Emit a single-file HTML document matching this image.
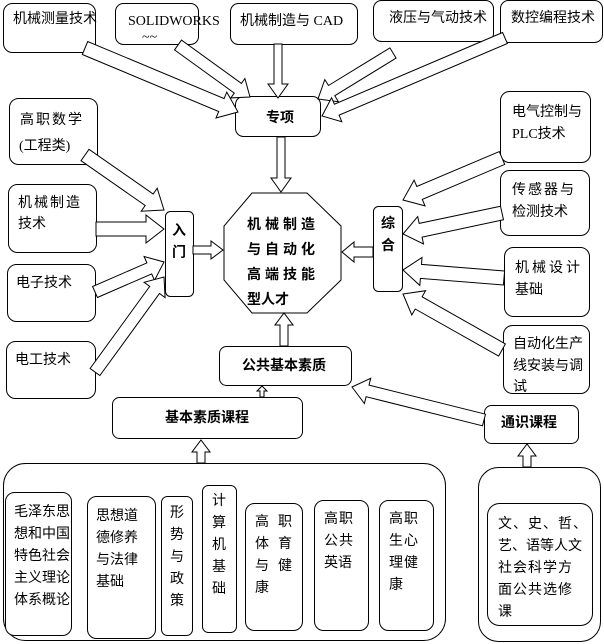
<!DOCTYPE html>
<html><head><meta charset="utf-8"><style>
html,body{margin:0;padding:0;background:#fff;}
svg{display:block;}
text{font-family:"Liberation Serif","Noto Sans CJK SC",serif;font-size:14px;fill:#000;}
.b{font-weight:bold;}
</style></head><body>
<svg id="s" width="604" height="644" viewBox="0 0 604 644" xmlns="http://www.w3.org/2000/svg">
<g fill="#fff" stroke="#000" stroke-width="1">
<rect x="3.5" y="3.5" width="92" height="49" rx="9"/>
<rect x="115.5" y="3.5" width="83" height="41" rx="8"/>
<rect x="230.5" y="3.5" width="127" height="41" rx="8"/>
<rect x="373.5" y="0.5" width="120" height="41" rx="8"/>
<rect x="500.5" y="0.5" width="102" height="42" rx="8"/>
<rect x="235.5" y="96.5" width="85" height="40" rx="8"/>
<rect x="9.5" y="98.5" width="88" height="66" rx="9"/>
<rect x="500.5" y="91.5" width="90" height="71" rx="9"/>
<rect x="8.5" y="184.5" width="88" height="68" rx="9"/>
<rect x="165.5" y="211.5" width="28" height="85" rx="5"/>
<rect x="373.5" y="206.5" width="29" height="85" rx="5"/>
<rect x="500.5" y="170.5" width="89" height="65" rx="9"/>
<rect x="7.5" y="264.5" width="88" height="57" rx="9"/>
<rect x="504.5" y="247.5" width="85" height="69" rx="9"/>
<rect x="6.5" y="341.5" width="89" height="57" rx="9"/>
<rect x="503.5" y="325.5" width="86" height="68" rx="9"/>
<rect x="219.5" y="346.5" width="132" height="39" rx="7"/>
<rect x="112.5" y="397.5" width="190" height="41" rx="7"/>
<rect x="484.5" y="405.5" width="94" height="38" rx="7"/>
<rect x="3.5" y="463.5" width="442" height="177" rx="22"/>
<rect x="478.5" y="467.5" width="122" height="174" rx="20"/>
<rect x="5.5" y="492.5" width="66" height="143" rx="9"/>
<rect x="87.5" y="496.5" width="68" height="142" rx="9"/>
<rect x="161.5" y="496.5" width="31" height="139" rx="6"/>
<rect x="202.5" y="485.5" width="34" height="147" rx="6"/>
<rect x="245.5" y="503.5" width="57" height="127" rx="9"/>
<rect x="314.5" y="500.5" width="54" height="130" rx="9"/>
<rect x="379.5" y="500.5" width="54" height="130" rx="9"/>
<rect x="487.5" y="503.5" width="105" height="122" rx="12"/>
<polygon points="252,193 307,193 341,226 341,280 307,313 252,313 224,280 224,226"/>
</g>
<g id="arrows" fill="#fff" stroke="#000" stroke-width="1"></g>
<g>
<text x="13" y="23" font-size="13">机械测量技术</text>
<text x="128" y="25" font-size="13">SOLIDWORKS</text>
<text x="142" y="41" font-size="9">~~</text>
<text x="240" y="25">机械制造与 CAD</text>
<text x="389" y="22" font-size="13">液压与气动技术</text>
<text x="511" y="22" font-size="13">数控编程技术</text>
<text x="266" y="122" class="b">专项</text>
<text x="20" y="124" letter-spacing="2">高职数学</text>
<text x="19" y="150">(工程类)</text>
<text x="512" y="116">电气控制与</text>
<text x="512" y="138">PLC技术</text>
<text x="18" y="207" letter-spacing="2">机械制造</text>
<text x="18" y="228">技术</text>
<text x="172" y="235" class="b">入</text>
<text x="172" y="257" class="b">门</text>
<text x="247" y="229" class="b" font-size="15" letter-spacing="4">机械制造</text>
<text x="247" y="254" class="b" font-size="15" letter-spacing="4">与自动化</text>
<text x="247" y="279" class="b" font-size="15" letter-spacing="4">高端技能</text>
<text x="247" y="304" class="b" font-size="15">型人才</text>
<text x="381" y="228" class="b">综</text>
<text x="381" y="250" class="b">合</text>
<text x="512" y="194" letter-spacing="2">传感器与</text>
<text x="512" y="216">检测技术</text>
<text x="16" y="287">电子技术</text>
<text x="515" y="272" letter-spacing="3">机械设计</text>
<text x="515" y="294">基础</text>
<text x="15" y="364">电工技术</text>
<text x="513" y="348">自动化生产</text>
<text x="513" y="370">线安装与调</text>
<text x="513" y="391">试</text>
<text x="242" y="370" class="b">公共基本素质</text>
<text x="165" y="422" class="b">基本素质课程</text>
<text x="501" y="427" class="b">通识课程</text>
<text x="14" y="516">毛泽东思</text>
<text x="14" y="538">想和中国</text>
<text x="14" y="560">特色社会</text>
<text x="14" y="582">主义理论</text>
<text x="14" y="604">体系概论</text>
<text x="96" y="520">思想道</text>
<text x="96" y="542">德修养</text>
<text x="96" y="564">与法律</text>
<text x="96" y="586">基础</text>
<text x="170" y="517">形</text><text x="170" y="539">势</text><text x="170" y="561">与</text><text x="170" y="583">政</text><text x="170" y="605">策</text>
<text x="212" y="505">计</text><text x="212" y="527">算</text><text x="212" y="549">机</text><text x="212" y="571">基</text><text x="212" y="593">础</text>
<text x="255" y="526">高</text><text x="278" y="526">职</text>
<text x="255" y="548">体</text><text x="278" y="548">育</text>
<text x="255" y="570">与</text><text x="278" y="570">健</text>
<text x="255" y="592">康</text>
<text x="324" y="523" letter-spacing="1">高职</text>
<text x="324" y="545" letter-spacing="1">公共</text>
<text x="324" y="567">英语</text>
<text x="389" y="523" letter-spacing="1">高职</text>
<text x="389" y="545" letter-spacing="1">生心</text>
<text x="389" y="567" letter-spacing="1">理健</text>
<text x="389" y="589">康</text>
<text x="498" y="528" letter-spacing="1">文、史、哲、</text>
<text x="498" y="550">艺、语等人文</text>
<text x="498" y="572" letter-spacing="1">社会科学方</text>
<text x="498" y="594" letter-spacing="1">面公共选修</text>
<text x="498" y="616">课</text>
</g>
</svg>
<script>
var A=[
[85,48,238,112,7,14,18],
[178,45,250,97,6,12,15],
[278,44,278,98,4,10,14],
[393,53,318,99,6,13,16],
[505,38,322,116,6,13,16],
[281,137,281,192,4,10,14],
[85,155,164,210,7,14,18],
[96,229,164,229,7,14,18],
[95,292,164,262,6,13,16],
[95,372,164,277,6,13,16],
[193,250,223,250,4,9,12],
[373,252,342,252,5,10,12],
[502,158,403,200,7,14,18],
[502,213,403,234,7,14,18],
[504,278,403,270,7,14,18],
[502,350,403,294,7,14,18],
[284,346,284,313,4,9,12],
[262,397,262,386,2,5,5],
[484,420,352,387,6,13,16],
[201,463,201,440,4,9,12],
[527,467,527,444,4,9,12]
];
var g=document.getElementById('arrows'),h='';
A.forEach(function(a){
var x1=a[0],y1=a[1],x2=a[2],y2=a[3],w=a[4],H=a[5],L=a[6];
var dx=x2-x1,dy=y2-y1,l=Math.sqrt(dx*dx+dy*dy),ux=dx/l,uy=dy/l,nx=-uy,ny=ux;
var bx=x2-ux*L,by=y2-uy*L;
var p=[[x1+nx*w,y1+ny*w],[bx+nx*w,by+ny*w],[bx+nx*H,by+ny*H],[x2,y2],[bx-nx*H,by-ny*H],[bx-nx*w,by-ny*w],[x1-nx*w,y1-ny*w]];
h+='<polygon points="'+p.map(function(q){return q[0].toFixed(1)+','+q[1].toFixed(1)}).join(' ')+'"/>';
});
g.innerHTML=h;
</script>
</body></html>
